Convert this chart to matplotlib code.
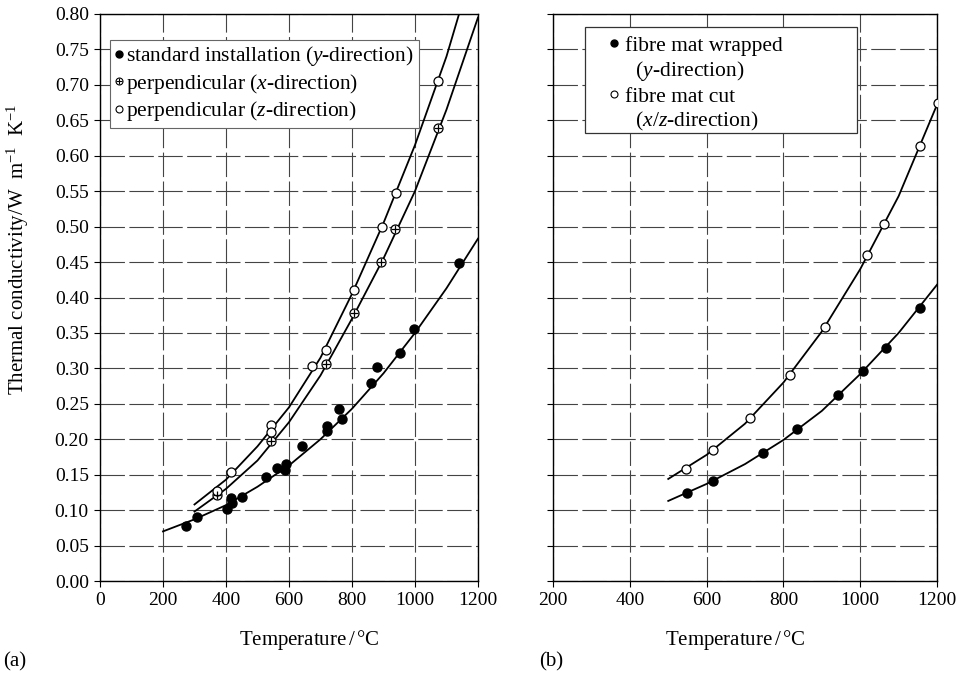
import matplotlib
matplotlib.use("Agg")
import matplotlib.pyplot as plt
from matplotlib.ticker import MultipleLocator, FormatStrFormatter
from matplotlib.lines import Line2D
from matplotlib.patches import Rectangle

plt.rcParams['font.family'] = ['Liberation Serif', 'DejaVu Serif']
plt.rcParams['mathtext.fontset'] = 'custom'
plt.rcParams['mathtext.rm'] = 'Liberation Serif'
plt.rcParams['mathtext.it'] = 'Liberation Serif:italic'

# ---------- panel (a) data ----------
std_T = [273, 309, 404, 415, 420, 450, 526, 563, 588, 592, 641, 720, 722, 760, 769, 860, 880, 952, 997, 1139]
std_k = [0.078, 0.090, 0.101, 0.117, 0.110, 0.119, 0.147, 0.159, 0.157, 0.165, 0.191, 0.219, 0.212, 0.243, 0.228, 0.280, 0.302, 0.322, 0.355, 0.448]

px_T = [370, 542, 717, 805, 893, 937, 1074]
px_k = [0.122, 0.197, 0.306, 0.378, 0.450, 0.497, 0.639]

pz_T = [370, 415, 542, 542, 674, 717, 805, 895, 940, 1074]
pz_k = [0.127, 0.154, 0.220, 0.210, 0.304, 0.326, 0.411, 0.500, 0.547, 0.706]

# fitted curves
std_curve_T = [200, 300, 400, 500, 600, 700, 800, 900, 1000, 1100, 1200]
std_curve_k = [0.070, 0.087, 0.107, 0.133, 0.163, 0.200, 0.243, 0.293, 0.350, 0.413, 0.483]
px_curve_T = [300, 400, 500, 600, 700, 800, 900, 1000, 1100, 1200]
px_curve_k = [0.098, 0.130, 0.170, 0.224, 0.290, 0.370, 0.455, 0.550, 0.665, 0.795]
pz_curve_T = [300, 400, 500, 600, 700, 800, 900, 1000, 1100, 1150]
pz_curve_k = [0.108, 0.143, 0.190, 0.245, 0.315, 0.405, 0.505, 0.615, 0.740, 0.815]

# ---------- panel (b) data ----------
wr_T = [548, 616, 747, 836, 943, 1007, 1066, 1156]
wr_k = [0.124, 0.141, 0.180, 0.2145, 0.262, 0.296, 0.329, 0.385]
cut_T = [545, 616, 714, 816, 907, 1017, 1063, 1156, 1203]
cut_k = [0.158, 0.185, 0.230, 0.290, 0.359, 0.460, 0.504, 0.614, 0.674]

wr_curve_T = [500, 600, 700, 800, 900, 1000, 1100, 1200]
wr_curve_k = [0.113, 0.137, 0.165, 0.199, 0.240, 0.292, 0.350, 0.418]
cut_curve_T = [500, 600, 700, 800, 900, 1000, 1100, 1200]
cut_curve_k = [0.144, 0.178, 0.222, 0.280, 0.352, 0.440, 0.543, 0.672]

fig = plt.figure(figsize=(9.65, 6.79), dpi=100)
axa = fig.add_axes([0.1036, 0.1443, 0.3917, 0.8351])
axb = fig.add_axes([0.5731, 0.1443, 0.3979, 0.8351])

ms = 6.5
lw = 1.3
TICK_FS = 14
LAB_FS = 15
LEG_FS = 15.5

def style(ax, xmin, labels, xlabel_x):
    ax.set_ylim(0, 0.80)
    ax.set_xlim(xmin, 1200)
    ax.xaxis.set_major_locator(MultipleLocator(200))
    ax.yaxis.set_major_locator(MultipleLocator(0.05))
    ax.grid(True, color='#444444', linewidth=0.8, linestyle=(0, (22, 4)))
    ax.set_axisbelow(True)
    ax.tick_params(direction='out', length=4, width=0.8, labelsize=TICK_FS, pad=4)
    for s in ax.spines.values():
        s.set_linewidth(1.0)
    if labels:
        ax.yaxis.set_major_formatter(FormatStrFormatter('%.2f'))
    else:
        ax.set_yticklabels([])
    ax.set_xlabel('Temperature$\\,/\\,$°C', fontsize=LAB_FS)
    ax.xaxis.set_label_coords(xlabel_x, -0.113)
    ax.xaxis.label.set_va('baseline')

# panel (a)
style(axa, 0, True, 0.553)
axa.set_ylabel('Thermal conductivity/W  m$^{-1}$  K$^{-1}$', fontsize=LAB_FS)
axa.yaxis.set_label_coords(-0.218, 0.584)
axa.yaxis.label.set_va('center')
axa.plot(std_curve_T, std_curve_k, color='black', lw=lw, zorder=3)
axa.plot(px_curve_T, px_curve_k, color='black', lw=lw, zorder=3)
axa.plot(pz_curve_T, pz_curve_k, color='black', lw=lw, zorder=3)
axa.plot(std_T, std_k, 'o', color='black', ms=ms, zorder=4, linestyle='none')
axa.plot(px_T, px_k, 'o', mfc='white', mec='black', mew=0.9, ms=ms, zorder=4, linestyle='none')
axa.plot(px_T, px_k, '+', color='black', mew=0.9, ms=ms - 0.5, zorder=5, linestyle='none')
axa.plot(pz_T, pz_k, 'o', mfc='white', mec='black', mew=0.9, ms=ms, zorder=4, linestyle='none')

l1 = Line2D([], [], marker='o', color='black', ms=5, linestyle='none')
l2a = Line2D([], [], marker='o', mfc='white', mec='black', mew=0.8, ms=5, linestyle='none')
l2b = Line2D([], [], marker='+', color='black', mew=0.8, ms=4.5, linestyle='none')
l3 = Line2D([], [], marker='o', mfc='white', mec='black', mew=0.8, ms=5, linestyle='none')
leg = axa.legend([l1, (l2a, l2b), l3],
                 ['standard installation ($y$-direction)',
                  'perpendicular ($x$-direction)',
                  'perpendicular ($z$-direction)'],
                 loc='upper left', bbox_to_anchor=(0.026, 0.955), fontsize=LEG_FS,
                 handlelength=0.4, handletextpad=0.15, borderpad=0.22,
                 labelspacing=0.16, fancybox=False, framealpha=1,
                 edgecolor='#666666', borderaxespad=0)
leg.get_frame().set_linewidth(0.8)

# panel (b)
style(axb, 200, False, 0.474)
axb.plot(wr_curve_T, wr_curve_k, color='black', lw=lw, zorder=3)
axb.plot(cut_curve_T, cut_curve_k, color='black', lw=lw, zorder=3)
axb.plot(wr_T, wr_k, 'o', color='black', ms=ms, zorder=4, linestyle='none')
axb.plot(cut_T, cut_k, 'o', mfc='white', mec='black', mew=0.9, ms=ms, zorder=4, linestyle='none')

# legend frame of panel (b)
axb.add_patch(Rectangle((0.0833, 0.790), 0.7084, 0.187, transform=axb.transAxes,
                        facecolor='white', edgecolor='#333333', linewidth=0.9, zorder=6))
b1 = Line2D([], [], marker='o', color='black', ms=5, linestyle='none')
b2 = Line2D([], [], marker='o', mfc='white', mec='black', mew=0.8, ms=5, linestyle='none')
blank = Line2D([], [], linestyle='none')
legb = axb.legend([b1, blank, b2, blank],
                  ['fibre mat wrapped', '  ($y$-direction)',
                   'fibre mat cut', '  ($x/z$-direction)'],
                  loc='upper left', bbox_to_anchor=(0.147, 0.962), fontsize=LEG_FS,
                  handlelength=0.4, handletextpad=0.3, borderpad=0.0,
                  labelspacing=0.16, frameon=False, borderaxespad=0)
legb.set_zorder(7)

fig.text(0.003, 0.019, '(a)', fontsize=LAB_FS, ha='left', va='baseline')
fig.text(0.559, 0.019, '(b)', fontsize=LAB_FS, ha='left', va='baseline')

fig.savefig('out.png', dpi=100)
